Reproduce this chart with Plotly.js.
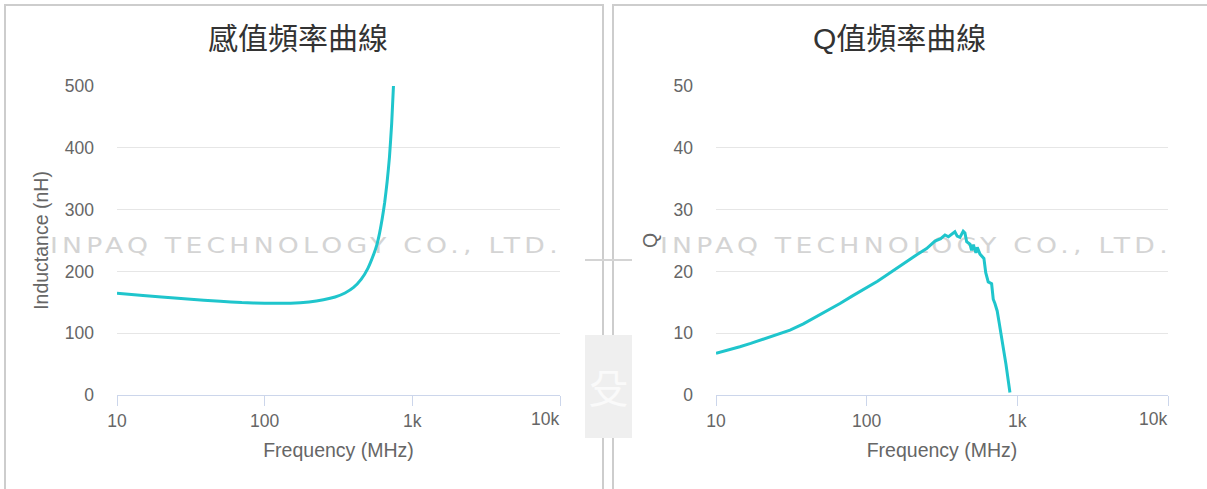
<!DOCTYPE html>
<html>
<head>
<meta charset="utf-8">
<script src="https://cdn.plot.ly/plotly-3.0.1.min.js"></script>
<style>
  html, body { margin: 0; padding: 0; background: #fff; }
  #wrap { position: relative; width: 1207px; height: 489px; overflow: hidden; background: #fff; }
  .panel { position: absolute; border: 2px solid #cdcdcd; background: transparent; box-sizing: border-box; }
  .wm { position: absolute; font-family: "DejaVu Sans", sans-serif; font-weight: normal; color: #d4d4d4;
        font-size: 22px; letter-spacing: 3.5px; white-space: nowrap; line-height: 22px; transform: scaleX(1.212); transform-origin: left center; }
  #chart { position: absolute; left: 0; top: 0; }
</style>
</head>
<body>
<div id="wrap">
  <div class="panel" style="left:4px; top:4px; width:600px; height:520px;"></div>
  <div class="panel" style="left:612px; top:4px; width:620px; height:520px;"></div>
  <div style="position:absolute; left:585px; top:259px; width:47px; height:2px; background:#d4d4d4;"></div>
  <div style="position:absolute; left:585px; top:335px; width:47px; height:103px; background:#efefef; color:#fafafa; font-family:'Noto Sans CJK TC'; font-size:40px; line-height:103px; text-align:center; overflow:visible;">殳</div>
  <div class="wm" style="left:50px; top:235px;">INPAQ TECHNOLOGY CO., LTD.</div>
  <div class="wm" style="left:660px; top:235px;">INPAQ TECHNOLOGY CO., LTD.</div>
  <div id="chart"></div>
</div>
<script>
// ---- data ----
const freqL = [10, 15, 20, 30, 50, 70, 100, 150, 200, 250, 300, 350, 400, 450, 500, 550, 575, 600, 625, 650, 675, 700, 725, 745];
const inductance = [164.5, 161, 158.5, 155.5, 151.5, 149.5, 148.5, 148.5, 150.5, 154, 158.5, 165, 174, 187, 205, 229, 243, 262, 285, 312, 345, 385, 440, 500];

const freqQ = [10, 12, 14.4, 17, 21.7, 26, 31, 38, 46.5, 56, 66.5, 80, 100, 118, 136, 160, 184, 215, 250, 284, 310, 331, 349, 361, 385, 399, 416, 437, 449, 461, 485, 497, 510, 531, 542, 565, 589, 600, 617, 641, 675, 692, 710, 735, 760, 787, 840, 893];
const qValues = [6.75, 7.25, 7.8, 8.35, 9.2, 9.8, 10.5, 11.5, 12.7, 13.7, 14.8, 16.0, 17.3, 18.4, 19.4, 20.6, 21.6, 22.7, 23.7, 24.9, 25.3, 25.9, 25.6, 25.9, 26.4, 25.7, 25.5, 26.5, 26.2, 24.8, 24.4, 23.4, 24.3, 23.0, 23.9, 22.8, 22.4, 22.1, 19.8, 18.3, 18.0, 15.5, 14.8, 13.6, 11.5, 9.4, 5.0, 0.4];

const tickVals = [10, 100, 1000, 10000];
const tickText = ['10', '100', '1k', '10k'];
const titleL = '感值頻率曲線';
const titleQ = 'Q值頻率曲線';
const xTitle = 'Frequency (MHz)';
const yTitleL = 'Inductance (nH)';
const yTitleQ = 'Q';

const W = 1207, H = 489;
const lineColor = '#1fc5cc';
const tickFont = { family: 'Liberation Sans, Arial, sans-serif', size: 17.5, color: '#666666' };
const axTitleFont = { family: 'Liberation Sans, Arial, sans-serif', size: 19.5, color: '#666666' };
const titleFont = { family: 'Liberation Sans, Noto Sans CJK TC, sans-serif', size: 30, color: '#333333' };

function px(x) { return x / W; }
function py(y) { return (H - y) / H; }

const ttShown = tickText.slice(0, 3).concat(['']);

function xAxis(dom, anchor) {
  return {
    domain: dom, anchor: anchor, type: 'log', range: [1, 4],
    tickvals: tickVals, ticktext: ttShown,
    ticks: 'outside', ticklen: 10, tickwidth: 1, tickcolor: '#ccd6eb',
    showline: true, linecolor: '#ccd6eb', linewidth: 1,
    showgrid: false, zeroline: false, tickfont: tickFont,
    title: { text: xTitle, font: axTitleFont, standoff: 13 },
    fixedrange: true
  };
}
function yAxis(range, dtick, title, anchor) {
  return {
    domain: [py(395), py(86)], anchor: anchor, range: range, dtick: dtick,
    showgrid: true, gridcolor: '#e6e6e6', gridwidth: 1, zeroline: false,
    showline: false, ticks: '', tickfont: tickFont, ticklabelstandoff: 22,
    title: { text: title, font: axTitleFont, standoff: 10 },
    fixedrange: true
  };
}

const traces = [
  { x: freqL, y: inductance, type: 'scatter', mode: 'lines', xaxis: 'x', yaxis: 'y',
    line: { color: lineColor, width: 3, shape: 'spline', smoothing: 0.5 }, hoverinfo: 'x+y' },
  { x: freqQ, y: qValues, type: 'scatter', mode: 'lines', xaxis: 'x2', yaxis: 'y2',
    line: { color: lineColor, width: 3 }, hoverinfo: 'x+y' }
];

const layout = {
  width: W, height: H,
  margin: { l: 0, r: 0, t: 0, b: 0 },
  paper_bgcolor: 'rgba(0,0,0,0)', plot_bgcolor: 'rgba(0,0,0,0)',
  showlegend: false,
  xaxis: xAxis([px(117), px(560)], 'y'),
  yaxis: yAxis([0, 500], 100, yTitleL, 'x'),
  xaxis2: xAxis([px(716), px(1168)], 'y2'),
  yaxis2: yAxis([0, 50], 10, yTitleQ, 'x2'),
  annotations: [
    { text: titleL, xref: 'paper', yref: 'paper', x: px(298), y: py(38), xanchor: 'center', yanchor: 'middle', showarrow: false, font: titleFont },
    { text: titleQ, xref: 'paper', yref: 'paper', x: px(899), y: py(38), xanchor: 'center', yanchor: 'middle', showarrow: false, font: titleFont },
    { text: tickText[3], xref: 'x', yref: 'paper', x: Math.log10(tickVals[3]), y: py(418.5), xanchor: 'right', yanchor: 'middle', showarrow: false, font: tickFont, xshift: 1 },
    { text: tickText[3], xref: 'x2', yref: 'paper', x: Math.log10(tickVals[3]), y: py(418.5), xanchor: 'right', yanchor: 'middle', showarrow: false, font: tickFont, xshift: 1 }
  ]
};

Plotly.newPlot('chart', traces, layout, { displayModeBar: false });
</script>
</body>
</html>
